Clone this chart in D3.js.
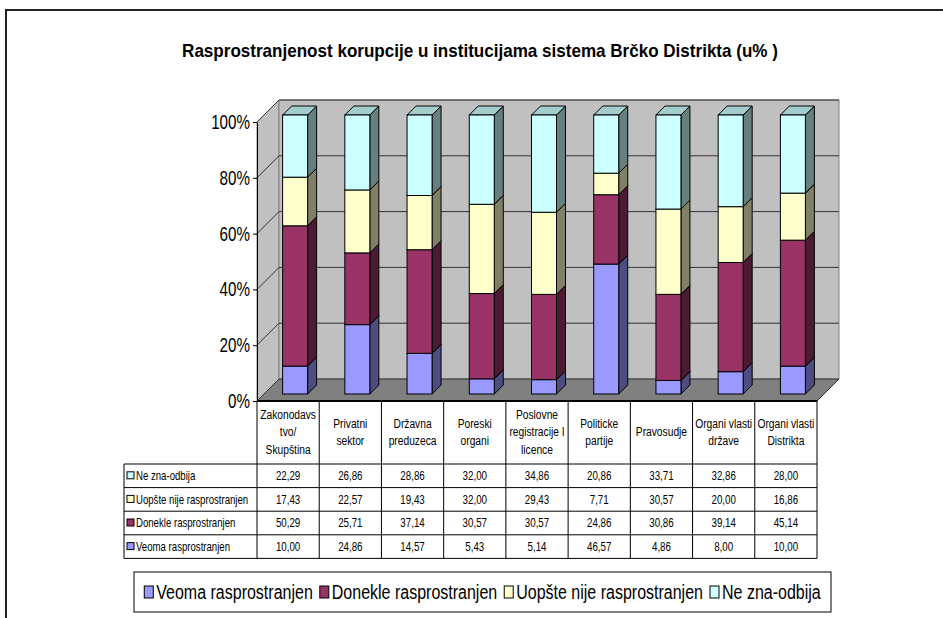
<!DOCTYPE html>
<html>
<head>
<meta charset="utf-8">
<script src="https://cdn.jsdelivr.net/npm/d3@7"></script>
<style>
  body { margin: 0; background: #fff; }
  svg { display: block; font-family: "Liberation Sans", Arial, sans-serif; }
</style>
</head>
<body>
<svg id="chart" width="943" height="618"></svg>
<script>
// podaci
const categories = [
  ["Zakonodavs", "tvo/", "Skupština"],
  ["Privatni", "sektor"],
  ["Državna", "preduzeca"],
  ["Poreski", "organi"],
  ["Poslovne", "registracije I", "licence"],
  ["Politicke", "partije"],
  ["Pravosudje"],
  ["Organi vlasti", "države"],
  ["Organi vlasti", "Distrikta"]
];
const seriesNames = ["Veoma rasprostranjen", "Donekle rasprostranjen", "Uopšte nije rasprostranjen", "Ne zna-odbija"];
const veoma   = [10.00, 24.86, 14.57, 5.43, 5.14, 46.57, 4.86, 8.00, 10.00];
const donekle = [50.29, 25.71, 37.14, 30.57, 30.57, 24.86, 30.86, 39.14, 45.14];
const uopste  = [17.43, 22.57, 19.43, 32.00, 29.43, 7.71, 30.57, 20.00, 16.86];
const neZna   = [22.29, 26.86, 28.86, 32.00, 34.86, 20.86, 33.71, 32.86, 28.00];
const yTicks = [0, 20, 40, 60, 80, 100];
const title = "Rasprostranjenost korupcije u institucijama sistema Brčko Distrikta (u% )";

const colors = ["#9999FF", "#993366", "#FFFFCC", "#CCFFFF"];

const svg = d3.select("#chart");

// stisni tekst vodoravno (Excel izgleda uze)
function squeeze(sel, f) {
  sel.each(function () {
    const x = +this.getAttribute("x") || 0;
    d3.select(this).attr("transform", `translate(${x},0) scale(${f},1) translate(${-x},0)`);
  });
}

// okvir
svg.append("path")
  .attr("d", "M6,620 L6,10 L945,10")
  .attr("fill", "none").attr("stroke", "#222").attr("stroke-width", 2);

// naslov
const titleT = svg.append("text")
  .attr("x", 480).attr("y", 57)
  .attr("text-anchor", "middle")
  .attr("font-size", 19).attr("font-weight", "bold")
  .text(title);
squeeze(titleT, 596 / titleT.node().getComputedTextLength());

// skale
const x0 = 257, x1 = 817;
const depth = 22, barOff = 7, barDepth = 9, barW = 25;
const xScale = d3.scaleBand().domain(d3.range(categories.length)).range([x0, x1]).padding(0);
const yScale = d3.scaleLinear().domain([0, 100]).range([401, 122]);

// zidovi
const g = svg.append("g");
const yb0 = yScale(0) - depth, yb1 = yScale(100) - depth;
g.append("polygon")
  .attr("points", [[x0, yScale(0)], [x0, yScale(100)], [x0 + depth, yb1], [x0 + depth, yb0]].join(" "))
  .attr("fill", "#c0c0c0").attr("stroke", "#808080");
g.append("polygon")
  .attr("points", [[x0 + depth, yb1], [x1 + depth, yb1], [x1 + depth, yb0], [x0 + depth, yb0]].join(" "))
  .attr("fill", "#c0c0c0").attr("stroke", "#808080");
g.append("polygon")
  .attr("points", [[x0, yScale(0)], [x0 + depth, yb0], [x1 + depth, yb0], [x1, yScale(0)]].join(" "))
  .attr("fill", "#808080").attr("stroke", "#333");

// mreza
yTicks.filter(t => t > 0).forEach(t => {
  const yy = yScale(t);
  g.append("path")
    .attr("d", `M${x0},${yy} L${x0 + depth},${yy - depth} L${x1 + depth},${yy - depth}`)
    .attr("fill", "none").attr("stroke", "#333").attr("stroke-width", 1);
});

// y osa
const yAxisG = svg.append("g")
  .attr("transform", `translate(${x0},0)`)
  .call(d3.axisLeft(yScale).tickValues(yTicks).tickFormat(d => d + "%").tickSize(4).tickSizeOuter(0).tickPadding(3));
yAxisG.select(".domain").attr("stroke", "#000");
yAxisG.selectAll("line").attr("stroke", "#000");
yAxisG.selectAll("text").attr("font-size", 20).attr("font-family", "Liberation Sans, Arial").attr("fill", "#000");
squeeze(yAxisG.selectAll("text"), 0.76);

// stubici
const rows = categories.map((c, i) => ({ i: i, 0: veoma[i], 1: donekle[i], 2: uopste[i], 3: neZna[i] }));
const stack = d3.stack().keys([0, 1, 2, 3]).offset(d3.stackOffsetExpand)(rows);

function shade(c, k) {
  const col = d3.rgb(c);
  return d3.rgb(col.r * k, col.g * k, col.b * k).formatHex();
}

const barsG = svg.append("g");
rows.forEach((r, i) => {
  const bx = xScale(i) + xScale.bandwidth() / 2 - barW / 2 + barOff;
  stack.forEach((s, k) => {
    const lo = yScale(s[i][0] * 100) - barOff;
    const hi = yScale(s[i][1] * 100) - barOff;
    // bok
    barsG.append("polygon")
      .attr("points", [[bx + barW, lo], [bx + barW + barDepth, lo - barDepth], [bx + barW + barDepth, hi - barDepth], [bx + barW, hi]].join(" "))
      .attr("fill", shade(colors[k], 0.5)).attr("stroke", "#000").attr("stroke-width", 1);
    // vrh
    barsG.append("polygon")
      .attr("points", [[bx, hi], [bx + barDepth, hi - barDepth], [bx + barW + barDepth, hi - barDepth], [bx + barW, hi]].join(" "))
      .attr("fill", shade(colors[k], 0.8)).attr("stroke", "#000").attr("stroke-width", 1);
    // prednja strana
    barsG.append("rect")
      .attr("x", bx).attr("y", hi)
      .attr("width", barW).attr("height", lo - hi)
      .attr("fill", colors[k]).attr("stroke", "#000").attr("stroke-width", 1);
  });
});

// tabela podataka
const tableG = svg.append("g");
const rowTop = 464, rowH = 23.6, labelX = 124;
const tableRows = [neZna, uopste, donekle, veoma];
const tableNames = [3, 2, 1, 0];
const fmt = v => d3.format(".2f")(v).replace(".", ",");

categories.forEach((lines, i) => {
  const cx = xScale(i) + xScale.bandwidth() / 2;
  const t = tableG.append("text")
    .attr("x", cx).attr("text-anchor", "middle")
    .attr("font-size", 12.5);
  lines.forEach((ln, j) => {
    t.append("tspan")
      .attr("x", cx)
      .attr("y", 432 - (lines.length - 1) * 17.5 / 2 + j * 17.5)
      .attr("dy", "0.35em")
      .text(ln);
  });
  squeeze(t, 0.82);
});

tableRows.forEach((vals, r) => {
  const yy = rowTop + r * rowH + rowH / 2;
  const k = tableNames[r];
  tableG.append("rect")
    .attr("x", 127).attr("y", yy - 4)
    .attr("width", 7).attr("height", 7)
    .attr("fill", colors[k]).attr("stroke", "#000").attr("stroke-width", 1);
  const lab = tableG.append("text")
    .attr("x", 136).attr("y", yy).attr("dy", "0.35em")
    .attr("font-size", 12.5)
    .text(seriesNames[k]);
  squeeze(lab, 0.77);
  vals.forEach((v, i) => {
    const tv = tableG.append("text")
      .attr("x", xScale(i) + xScale.bandwidth() / 2).attr("y", yy).attr("dy", "0.35em")
      .attr("text-anchor", "middle").attr("font-size", 12.5)
      .text(fmt(v));
    squeeze(tv, 0.78);
  });
});

// linije tabele
const tableBottom = rowTop + rowH * 4;
d3.range(5).forEach(r => {
  tableG.append("line")
    .attr("x1", labelX).attr("x2", x1)
    .attr("y1", rowTop + r * rowH).attr("y2", rowTop + r * rowH)
    .attr("stroke", "#000");
});
tableG.append("line")
  .attr("x1", labelX).attr("x2", labelX)
  .attr("y1", rowTop).attr("y2", tableBottom).attr("stroke", "#000");
d3.range(categories.length + 1).forEach(i => {
  const xx = i < categories.length ? xScale(i) : x1;
  tableG.append("line")
    .attr("x1", xx).attr("x2", xx)
    .attr("y1", yScale(0)).attr("y2", tableBottom).attr("stroke", "#000");
});
tableG.append("line")
  .attr("x1", x0).attr("x2", x1)
  .attr("y1", yScale(0)).attr("y2", yScale(0))
  .attr("stroke", "#000").attr("stroke-width", 2);

// legenda
const legBox = { x: 134, y: 572, w: 697, h: 40 };
const legG = svg.append("g");
legG.append("rect")
  .attr("x", legBox.x).attr("y", legBox.y)
  .attr("width", legBox.w).attr("height", legBox.h)
  .attr("fill", "#fff").attr("stroke", "#000");
const itemsG = legG.append("g");
const legF = 0.8;
let cursor = 0;
seriesNames.forEach((name, k) => {
  const it = itemsG.append("g").attr("transform", `translate(${cursor},0)`);
  it.append("rect")
    .attr("x", 0).attr("y", -6)
    .attr("width", 9).attr("height", 12)
    .attr("fill", colors[k]).attr("stroke", "#000");
  const t = it.append("text")
    .attr("x", 12).attr("y", 0).attr("dy", "0.36em")
    .attr("font-size", 20)
    .text(name);
  const w = t.node().getComputedTextLength() * legF;
  squeeze(t, legF);
  cursor += 12 + w + 7;
});
const totalW = cursor - 7;
itemsG.attr("transform", `translate(${legBox.x + (legBox.w - totalW) / 2},${legBox.y + legBox.h / 2})`);
</script>
</body>
</html>
